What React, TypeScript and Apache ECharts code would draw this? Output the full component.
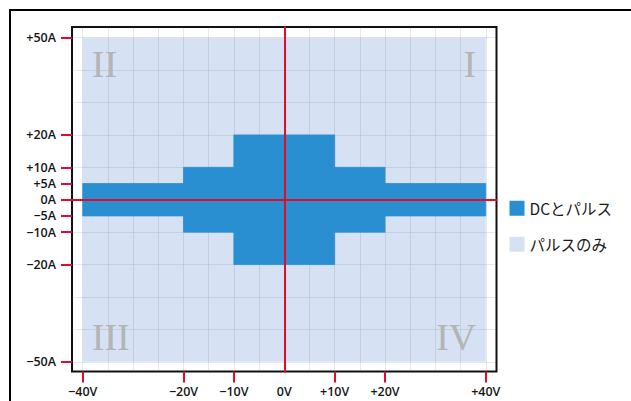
import React, { useEffect, useRef } from 'react';
import * as echarts from 'echarts';

const seriesNames = ['DCとパルス', 'パルスのみ'];
// DC + pulse region: voltage band edges (V) and ± current limit (A) in each band
const dcBandEdgesV = [-40, -20, -10, 10, 20, 40];
const dcBandLimitA = [5, 10, 20, 10, 5];
// pulse-only region
const pulseRangeV = [-40, 40];
const pulseRangeA = [-50, 50];
// ticks and grid
const xTickValues = [-40, -20, -10, 0, 10, 20, 40];
const xTickMarks = [-40, -20, -10, 10, 20, 40];
const yTickValues = [-50, -20, -10, -5, 0, 5, 10, 20, 50];
const xGridValues = [-40, -35, -30, -25, -20, -15, -10, -5, 0, 5, 10, 15, 20, 25, 30, 35, 40];
const yGridValues = [-50, -40, -30, -20, -10, 0, 10, 20, 30, 40, 50];
// quadrant numerals and the corner they sit in
const quadrantLabels = ['I', 'II', 'III', 'IV'];
const quadrantAnchorV = [40, -40, -40, 40];
const quadrantAnchorA = [50, 50, -50, -50];

const X_MIN = -42.13;
const X_MAX = 42.13;
const Y_MIN = -53.0;
const Y_MAX = 53.3;

const RED = '#e30a2c';
const DARK = '#2a8fd0';
const LIGHT = '#d6e2f3';
const GRIDLINE = 'rgba(95,110,135,0.16)';
const MINUS = '\u2212';

const fmt = (unit: string) => (v: number) =>
  v === 0 ? '0' + unit : v > 0 ? '+' + v + unit : MINUS + Math.abs(v) + unit;

const labelStyle = {
  fontFamily: '"Open Sans", sans-serif',
  fontSize: 12.5,
  fontWeight: 600,
  color: '#161616',
};

const rectItem = (color: string, stroke: boolean) => (params: any, api: any) => {
  const tl = api.coord([api.value(0), api.value(3)]);
  const br = api.coord([api.value(1), api.value(2)]);
  return {
    type: 'rect',
    shape: { x: tl[0], y: tl[1], width: br[0] - tl[0], height: br[1] - tl[1] },
    style: stroke ? { fill: color, stroke: color, lineWidth: 0.8 } : { fill: color },
  };
};

export default function App() {
  const ref = useRef<HTMLDivElement>(null);
  useEffect(() => {
    if (!ref.current) return;
    const chart = echarts.init(ref.current, undefined, { renderer: 'svg' });

    const dcData = dcBandLimitA.map((a, i) => [dcBandEdgesV[i], dcBandEdgesV[i + 1], -a, a]);
    const pulseData = [[pulseRangeV[0], pulseRangeV[1], pulseRangeA[0], pulseRangeA[1]]];
    const quadData = quadrantLabels.map((_, i) => [quadrantAnchorV[i], quadrantAnchorA[i]]);

    const baseX = { type: 'value', min: X_MIN, max: X_MAX, gridIndex: 0 };
    const baseY = { type: 'value', min: Y_MIN, max: Y_MAX, gridIndex: 0 };

    const option: any = {
      animation: false,
      backgroundColor: '#ffffff',
      grid: {
        left: 72,
        top: 27,
        right: 134.5,
        bottom: 29.5,
        show: true,
        borderColor: '#111',
        borderWidth: 2,
        backgroundColor: 'transparent',
      },
      xAxis: [
        {
          ...baseX,
          z: 1,
          axisLine: { show: false, onZero: false },
          axisTick: { show: false, customValues: xGridValues },
          axisLabel: { show: false, customValues: xGridValues },
          splitLine: { show: true, lineStyle: { color: GRIDLINE, width: 1 } },
        },
        {
          ...baseX,
          z: 4,
          axisLine: { show: true, onZero: true, onZeroAxisIndex: 0, lineStyle: { color: RED, width: 2 } },
          axisTick: { show: false },
          axisLabel: { show: false },
          splitLine: { show: false },
        },
        {
          ...baseX,
          z: 4,
          position: 'bottom',
          axisLine: { show: false, onZero: false },
          axisTick: { show: true, length: 11, customValues: xTickMarks, lineStyle: { color: RED, width: 2 } },
          axisLabel: { show: true, customValues: xTickValues, formatter: fmt('V'), margin: 13, ...labelStyle },
          splitLine: { show: false },
        },
      ],
      yAxis: [
        {
          ...baseY,
          z: 1,
          axisLine: { show: false, onZero: false },
          axisTick: { show: false, customValues: yGridValues },
          axisLabel: { show: false, customValues: yGridValues },
          splitLine: { show: true, lineStyle: { color: GRIDLINE, width: 1 } },
        },
        {
          ...baseY,
          z: 4,
          axisLine: { show: true, onZero: true, onZeroAxisIndex: 0, lineStyle: { color: RED, width: 2 } },
          axisTick: { show: false },
          axisLabel: { show: false },
          splitLine: { show: false },
        },
        {
          ...baseY,
          z: 4,
          position: 'left',
          axisLine: { show: false, onZero: false },
          axisTick: { show: true, length: 11, customValues: yTickValues, lineStyle: { color: RED, width: 2 } },
          axisLabel: { show: true, customValues: yTickValues, formatter: fmt('A'), margin: 16, ...labelStyle },
          splitLine: { show: false },
        },
      ],
      legend: {
        orient: 'vertical',
        left: 509.5,
        top: 200.5,
        padding: 0,
        itemWidth: 15,
        itemHeight: 15,
        itemGap: 20.5,
        icon: 'rect',
        selectedMode: false,
        data: [seriesNames[0], seriesNames[1]],
        textStyle: { fontFamily: '"Noto Sans CJK JP", sans-serif', fontSize: 15.5, color: '#1a1a1a' },
      },
      series: [
        {
          name: seriesNames[1],
          type: 'custom',
          xAxisIndex: 0,
          yAxisIndex: 0,
          z: 0,
          silent: true,
          itemStyle: { color: LIGHT },
          encode: { x: [0, 1], y: [2, 3] },
          data: pulseData,
          renderItem: rectItem(LIGHT, false),
        },
        {
          name: 'quadrants',
          type: 'custom',
          xAxisIndex: 0,
          yAxisIndex: 0,
          z: 1,
          silent: true,
          encode: { x: 0, y: 1 },
          data: quadData,
          renderItem: (params: any, api: any) => {
            const v = api.value(0);
            const a = api.value(1);
            const p = api.coord([v, a]);
            return {
              type: 'text',
              x: p[0] + (v > 0 ? -9.5 : 9),
              y: p[1] + (a > 0 ? 26 : -24.6),
              style: {
                text: quadrantLabels[params.dataIndex],
                fill: '#b4b4b4',
                font: '38px "Liberation Serif", serif',
                align: v > 0 ? 'right' : 'left',
                verticalAlign: 'middle',
              },
            };
          },
        },
        {
          name: seriesNames[0],
          type: 'custom',
          xAxisIndex: 0,
          yAxisIndex: 0,
          z: 2,
          silent: true,
          itemStyle: { color: DARK },
          encode: { x: [0, 1], y: [2, 3] },
          data: dcData,
          renderItem: rectItem(DARK, true),
        },
      ],
      graphic: [
        {
          type: 'rect',
          silent: true,
          z: 10,
          shape: { x: 10, y: 10, width: 680, height: 440 },
          style: { fill: 'none', stroke: '#000', lineWidth: 2 },
        },
      ],
    };

    chart.setOption(option);
    return () => chart.dispose();
  }, []);

  return (
    <div
      ref={ref}
      style={{ position: 'absolute', left: 0, top: 0, width: 631, height: 401 }}
    />
  );
}
